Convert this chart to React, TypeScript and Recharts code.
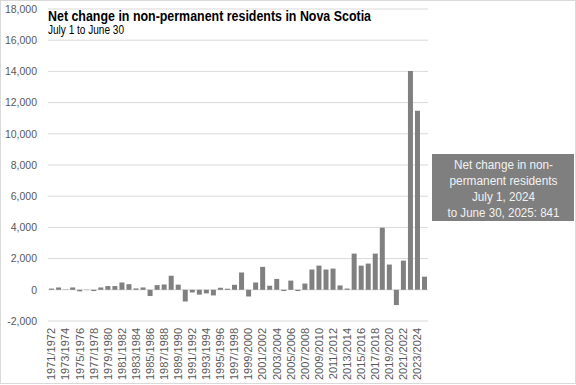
import { BarChart, Bar, XAxis, YAxis, CartesianGrid } from 'recharts';

// Nova Scotia, net change in non-permanent residents, July 1 to June 30
const periods = [
  '1971/1972', '1972/1973', '1973/1974', '1974/1975', '1975/1976', '1976/1977',
  '1977/1978', '1978/1979', '1979/1980', '1980/1981', '1981/1982', '1982/1983',
  '1983/1984', '1984/1985', '1985/1986', '1986/1987', '1987/1988', '1988/1989',
  '1989/1990', '1990/1991', '1991/1992', '1992/1993', '1993/1994', '1994/1995',
  '1995/1996', '1996/1997', '1997/1998', '1998/1999', '1999/2000', '2000/2001',
  '2001/2002', '2002/2003', '2003/2004', '2004/2005', '2005/2006', '2006/2007',
  '2007/2008', '2008/2009', '2009/2010', '2010/2011', '2011/2012', '2012/2013',
  '2013/2014', '2014/2015', '2015/2016', '2016/2017', '2017/2018', '2018/2019',
  '2019/2020', '2020/2021', '2021/2022', '2022/2023', '2023/2024', '2024/2025',
];

const netChange = [
  80, 150, 20, 150, -100, -20,
  -80, 150, 240, 240, 470, 360,
  90, 150, -400, 300, 340, 900,
  330, -750, -170, -310, -230, -360,
  130, 70, 320, 1110, -430, 470,
  1470, 260, 700, -80, 590, -80,
  400, 1300, 1550, 1300, 1360, 280,
  80, 2320, 1550, 1680, 2320, 3980,
  1620, -980, 1870, 14020, 11470, 841,
];

const yTicks = [-2000, 0, 2000, 4000, 6000, 8000, 10000, 12000, 14000, 16000, 18000];

const noteLines = ['Net change in non-', 'permanent residents', 'July 1, 2024', 'to June 30, 2025: 841'];
const noteWidths = [99, 108, 63, 112];

const data = periods.map((period, i) => ({ period, value: netChange[i] }));

const FONT = "'Liberation Sans', Arial, sans-serif";

const PeriodTick = (props: any) => {
  const { x, y, payload } = props;
  return (
    <g transform={`translate(${x},${y})`}>
      <text
        transform="rotate(-90)"
        x={-7}
        y={0}
        dy="0.35em"
        textAnchor="end"
        fill="#595959"
        fontSize={11}
        fontFamily={FONT}
      >
        {payload.value}
      </text>
    </g>
  );
};

export default function App() {
  return (
    <div style={{ position: 'absolute', left: 0, top: 0, width: 576, height: 385, background: '#fff' }}>
      <BarChart
        width={576}
        height={385}
        data={data}
        margin={{ top: 9, right: 148, bottom: 4, left: 0 }}
        barCategoryGap="15%"
      >
        <CartesianGrid vertical={false} stroke="#d9d9d9" />
        <XAxis
          dataKey="period"
          interval={1}
          axisLine={false}
          tickLine={false}
          tickSize={0}
          tickMargin={0}
          height={60}
          tick={<PeriodTick />}
        />
        <YAxis
          domain={[-2000, 18000]}
          ticks={yTicks}
          width={48}
          axisLine={false}
          tickLine={false}
          tickMargin={5}
          tickFormatter={(v: number) => v.toLocaleString('en-US')}
          tick={{ fill: '#595959', fontSize: 10.5, fontFamily: FONT }}
        />
        <Bar dataKey="value" fill="#808080" isAnimationActive={false} />
      </BarChart>

      {/* title, subtitle and note box drawn over the chart */}
      <svg width={576} height={385} style={{ position: 'absolute', left: 0, top: 0, pointerEvents: 'none' }}>
        <rect x={0.5} y={0.5} width={575} height={383} fill="none" stroke="#d9d9d9" />
        <text x={48} y={21} fontSize={15} fontWeight="bold" fontFamily={FONT} fill="#000" textLength={323} lengthAdjust="spacingAndGlyphs">
          Net change in non-permanent residents in Nova Scotia
        </text>
        <text x={48} y={34} fontSize={12} fontFamily={FONT} fill="#000" textLength={76} lengthAdjust="spacingAndGlyphs">
          July 1 to June 30
        </text>
        <rect x={432} y={154} width={142} height={67} fill="#7f7f7f" />
        {noteLines.map((line, i) => (
          <text
            key={line}
            x={503.5}
            y={168.5 + i * 16}
            textAnchor="middle"
            fontSize={12.5}
            fontFamily={FONT}
            fill="#f2f2f2"
            textLength={noteWidths[i]}
            lengthAdjust="spacingAndGlyphs"
          >
            {line}
          </text>
        ))}
      </svg>
    </div>
  );
}
